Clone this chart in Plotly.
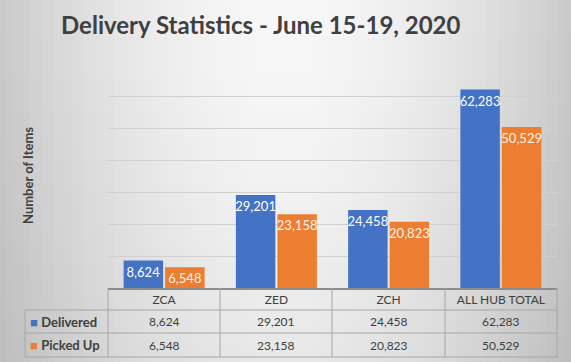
import plotly.graph_objects as go

# ---- data ----
categories = ["ZCA", "ZED", "ZCH", "ALL HUB TOTAL"]
delivered = [8624, 29201, 24458, 62283]
picked_up = [6548, 23158, 20823, 50529]
series_names = ["Delivered", "Picked Up"]
title_text = "Delivery Statistics - June 15-19, 2020"
y_title = "Number of Items"

# ---- layout helpers (pixel -> paper, margins are zero) ----
W, H = 571, 362
def fx(p):
    return p / W
def fy(p):
    return 1 - p / H

BLUE = "#4472C4"
ORANGE = "#ED7D31"
FONT = "Lato"
TXT = "#404040"
LINE = "#a6a6a6"

fig = go.Figure()
fig.add_trace(go.Bar(x=categories, y=delivered, name=series_names[0],
                     marker=dict(color=BLUE, line=dict(width=0)),
                     texttemplate="%{y:,}", textposition="inside",
                     insidetextanchor="end", textangle=0,
                     textfont=dict(color="white", size=13, family=FONT),
                     cliponaxis=False, hoverinfo="x+y"))
fig.add_trace(go.Bar(x=categories, y=picked_up, name=series_names[1],
                     marker=dict(color=ORANGE, line=dict(width=0)),
                     texttemplate="%{y:,}", textposition="inside",
                     insidetextanchor="end", textangle=0,
                     textfont=dict(color="#fff4ea", size=13, family=FONT),
                     cliponaxis=False, hoverinfo="x+y"))

shapes = []
# background gradient (grey edges, light centre)
step = 6
for x0 in range(0, W, step):
    d = abs(x0 + step / 2 - 285) / 285
    a = 0.18 * d ** 1.8 + 0.03
    shapes.append(dict(type="rect", xref="paper", yref="paper",
                       x0=fx(x0), x1=fx(min(x0 + step, W)), y0=0, y1=1,
                       fillcolor="black", opacity=a, line=dict(width=0),
                       layer="below"))
for y0 in range(0, H, step):
    t = (y0 + step / 2) / H
    a = 0.06 * t ** 1.5
    shapes.append(dict(type="rect", xref="paper", yref="paper",
                       x0=0, x1=1, y0=fy(min(y0 + step, H)), y1=fy(y0),
                       fillcolor="black", opacity=a, line=dict(width=0),
                       layer="below"))

# data table grid
rows_px = [288, 310, 333, 357]
col_px = [108, 220, 332, 445, 557]
left_px = 25
for r in rows_px[1:]:
    shapes.append(dict(type="line", xref="paper", yref="paper",
                       x0=fx(left_px), x1=fx(col_px[-1]), y0=fy(r), y1=fy(r),
                       line=dict(color=LINE, width=1)))
for c in col_px:
    shapes.append(dict(type="line", xref="paper", yref="paper",
                       x0=fx(c), x1=fx(c), y0=fy(rows_px[0]), y1=fy(rows_px[-1]),
                       line=dict(color=LINE, width=1)))
shapes.append(dict(type="line", xref="paper", yref="paper",
                   x0=fx(left_px), x1=fx(left_px), y0=fy(rows_px[1]), y1=fy(rows_px[-1]),
                   line=dict(color=LINE, width=1)))

annotations = []
annotations.append(dict(text="<b>" + title_text + "</b>", xref="paper", yref="paper",
                        x=fx(261), y=fy(24), xanchor="center", yanchor="middle",
                        showarrow=False, font=dict(family=FONT, size=24, color=TXT)))
annotations.append(dict(text="<b>" + y_title + "</b>", xref="paper", yref="paper",
                        x=fx(28), y=fy(176), xanchor="center", yanchor="middle",
                        textangle=-90, showarrow=False,
                        font=dict(family=FONT, size=13, color=TXT)))
row_centres = [321.5, 345]
for name, col, vals, rc in zip(series_names, [BLUE, ORANGE], [delivered, picked_up], row_centres):
    annotations.append(dict(text=f"<span style='color:{col}'>■</span> <b>{name}</b>",
                            xref="paper", yref="paper", x=fx(28), y=fy(rc),
                            xanchor="left", yanchor="middle", showarrow=False,
                            font=dict(family=FONT, size=13, color=TXT)))
    for cat, v in zip(categories, vals):
        annotations.append(dict(text=f"{v:,}", xref="x", yref="paper", x=cat, y=fy(rc),
                                xanchor="center", yanchor="middle", showarrow=False,
                                font=dict(family=FONT, size=12, color=TXT)))

# axis top slightly above 70k so the top gridline is drawn
top_val = 70300
top_px = 288 - top_val / 10000 * (288 - 65) / 7

fig.update_layout(
    width=W, height=H,
    margin=dict(l=0, r=0, t=0, b=0),
    paper_bgcolor="white", plot_bgcolor="rgba(0,0,0,0)",
    barmode="group", bargap=0.26, bargroupgap=0.05,
    showlegend=False,
    uniformtext=dict(minsize=13, mode="show"),
    font=dict(family=FONT, color=TXT),
    shapes=shapes, annotations=annotations,
    xaxis=dict(domain=[fx(108), fx(557)], showgrid=False, zeroline=False,
               showline=True, linecolor="#8c8c8c", linewidth=1.5,
               ticks="", tickfont=dict(family=FONT, size=12, color=TXT)),
    yaxis=dict(domain=[fy(288), fy(top_px)], range=[0, top_val], dtick=10000,
               showticklabels=False, showgrid=True, gridcolor="#d0d0d0",
               gridwidth=1, zeroline=False, ticks=""),
)

fig.write_html("out.html", config={"displayModeBar": False},
               post_script="document.body.style.margin='0';document.body.style.overflow='hidden';")
